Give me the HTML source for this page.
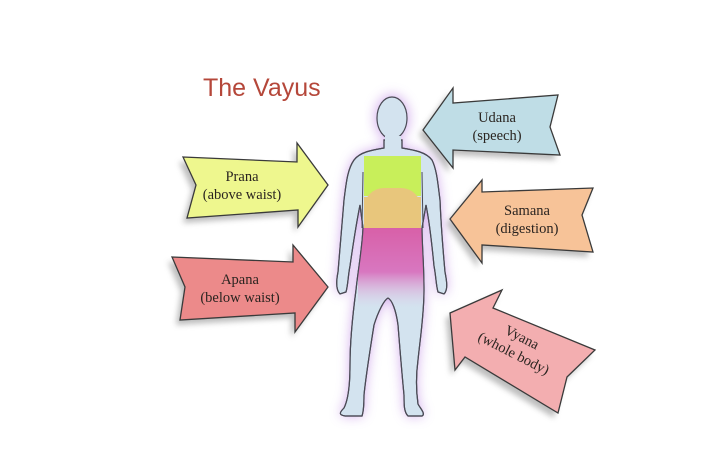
<!DOCTYPE html>
<html><head><meta charset="utf-8"><style>
html,body{margin:0;padding:0;background:#fff;}
svg{display:block;}
.t{font-family:"Liberation Serif",serif;font-size:14.5px;fill:#2a2420;text-anchor:middle;}
</style></head><body>
<svg width="720" height="452" viewBox="0 0 720 452" xmlns="http://www.w3.org/2000/svg">
<defs>
<filter id="sh" x="-20%" y="-20%" width="140%" height="140%"><feGaussianBlur stdDeviation="3"/></filter>
<filter id="glow" x="-30%" y="-30%" width="160%" height="160%"><feGaussianBlur stdDeviation="6"/></filter>
<linearGradient id="pk" x1="0" y1="0" x2="0" y2="1">
<stop offset="0" stop-color="#d860a8"/><stop offset="0.55" stop-color="#d877c0"/><stop offset="1" stop-color="#e0c8e6" stop-opacity="0"/>
</linearGradient>
<clipPath id="bc"><path id="bp" d="M384,140 L384,148 C372,150 360,152 354,160 C347,170 346,185 344,200 C342,225 340,250 338,272 C336,282 336,290 340,294 L346,292 C348,285 348,276 350,266 C353,245 356,225 360,205 L363,228 C362,250 358,270 356,290 C352,320 350,345 350,365 C350,385 348,400 344,408 C340,412 338,415 345,416 L362,416 C364,410 364,402 364,395 C366,375 370,350 374,325 C378,312 384,300 388,298 C392,300 396,310 398,325 C400,350 402,375 404,395 C404,405 404,412 408,416 L422,416 C426,414 420,408 418,404 C416,390 416,375 418,360 C420,340 424,315 424,290 C424,265 422,245 422,228 L426,205 C430,225 432,245 434,266 C436,276 436,285 438,292 L444,294 C448,290 447,282 445,272 C443,250 441,225 440,200 C438,185 437,170 432,160 C426,152 414,150 402,148 L402,140 Z"/></clipPath>
</defs>

<text x="203" y="96" style="font-family:'Liberation Sans',sans-serif;font-size:25px;fill:#b5473a;">The Vayus</text>

<g fill="#888" opacity="0.55" filter="url(#sh)" transform="translate(-4,5)">
<polygon points="183,157 297,162 297,143 328,185 298,227 298,210 187,218 196,185"/>
<polygon points="172,257 293,262 293,245 328,287 295,332 295,313 180,320 185,287"/>
<polygon points="423,130 453,88 453,103 558,95 550,127 560,155 453,150 453,168"/>
<polygon points="450,219 482,180 482,192 593,188 582,215 593,252 482,245 482,263"/>
<polygon points="450,313 502,290 493,308 595,350 567,377 558,413 465,357 455,370"/>
</g>
<g stroke="#3a3a3a" stroke-width="1.3" stroke-linejoin="miter">
<polygon fill="#eef78e" points="183,157 297,162 297,143 328,185 298,227 298,210 187,218 196,185"/>
<polygon fill="#ec8a8a" points="172,257 293,262 293,245 328,287 295,332 295,313 180,320 185,287"/>
<polygon fill="#bfdde6" points="423,130 453,88 453,103 558,95 550,127 560,155 453,150 453,168"/>
<polygon fill="#f7c398" points="450,219 482,180 482,192 593,188 582,215 593,252 482,245 482,263"/>
<polygon fill="#f3aeb0" points="450,313 502,290 493,308 595,350 567,377 558,413 465,357 455,370"/>
</g>

<g>
<use href="#bp" fill="#c89be8" filter="url(#glow)" opacity="0.85"/>
<ellipse cx="392" cy="118" rx="17" ry="23" fill="#c89be8" filter="url(#glow)" opacity="0.8"/>
<use href="#bp" fill="#d3e3ef" stroke="#4a4a55" stroke-width="1.2"/>
<g clip-path="url(#bc)">
<rect x="364" y="156" width="57" height="40" fill="#c8ef5a"/>
<rect x="364" y="188" width="57" height="42" rx="20" fill="#e8c67c"/>
<rect x="364" y="197" width="57" height="33" fill="#e8c67c"/>
<rect x="358" y="228" width="68" height="80" fill="url(#pk)"/>
</g>
<use href="#bp" fill="none" stroke="#4a4a55" stroke-width="1.2"/>
<path d="M363,172 L362,228 M422,172 L423,228" stroke="#4a4a55" stroke-width="1" fill="none"/>
<ellipse cx="392" cy="118" rx="15" ry="21" fill="#d3e3ef" stroke="#4a4a55" stroke-width="1.2"/>
<rect x="385" y="136" width="16" height="10" fill="#d3e3ef"/>
</g>

<text class="t" x="242" y="181">Prana</text>
<text class="t" x="242" y="199">(above waist)</text>
<text class="t" x="240" y="284">Apana</text>
<text class="t" x="240" y="302">(below waist)</text>
<text class="t" x="497" y="122">Udana</text>
<text class="t" x="497" y="140">(speech)</text>
<text class="t" x="527" y="215">Samana</text>
<text class="t" x="527" y="233">(digestion)</text>
<g transform="translate(518,345) rotate(27)">
<text class="t" x="0" y="-4">Vyana</text>
<text class="t" x="0" y="14">(whole body)</text>
</g>
</svg>
</body></html>
